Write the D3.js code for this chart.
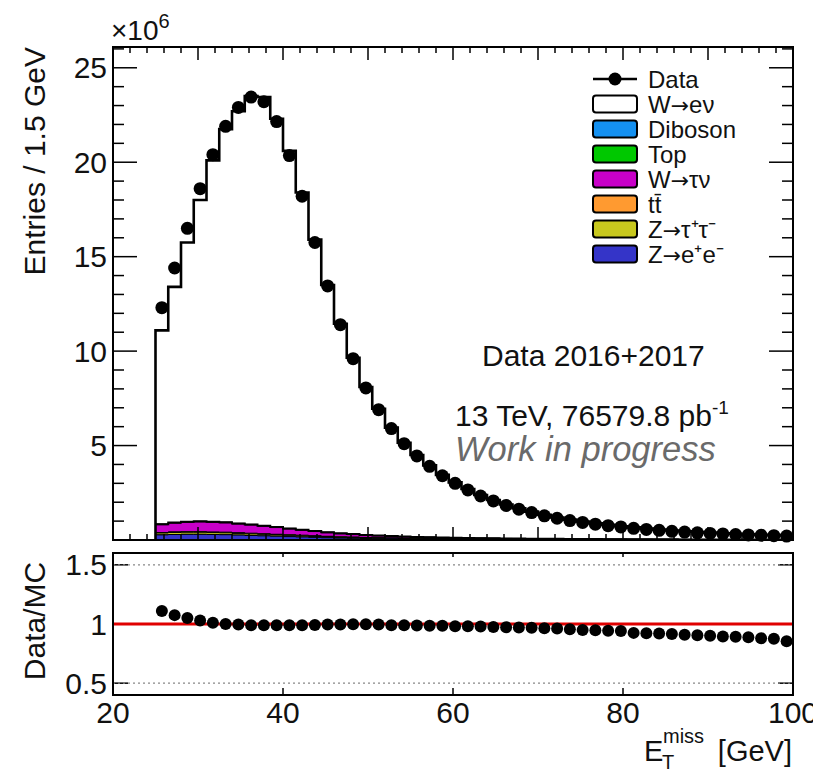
<!DOCTYPE html>
<html><head><meta charset="utf-8">
<script src="https://cdn.jsdelivr.net/npm/d3@7"></script>
<style>
html,body{margin:0;padding:0;background:#fff;}
text{font-family:"Liberation Sans",Arial,Helvetica,sans-serif;fill:#111;}
</style></head>
<body><svg id="c" width="813" height="770"></svg>
<script>
// ---- data (units of 1e6 entries per 1.5 GeV bin, bins from 25 to 100 GeV) ----
const binLow = 25, binWidth = 1.5, nBins = 50;
const dataVals = [12.3,14.4,16.5,18.6,20.4,21.9,22.9,23.45,23.2,22.15,
  20.35,18.2,15.75,13.45,11.4,9.6,8.05,6.9,5.9,5.1,
  4.45,3.9,3.4,3.0,2.65,2.33,2.07,1.83,1.63,1.45,
  1.28,1.15,1.03,0.93,0.84,0.76,0.69,0.62,0.56,0.51,
  0.46,0.42,0.38,0.35,0.32,0.29,0.27,0.25,0.23,0.21];
const mcTotal = [11.1,13.4,15.75,18.0,20.1,21.75,22.7,23.5,23.45,22.3,
  20.6,18.4,15.9,13.5,11.45,9.65,8.1,6.95,5.95,5.15,
  4.5,3.95,3.45,3.05,2.7,2.38,2.12,1.88,1.68,1.5,
  1.33,1.19,1.08,0.98,0.89,0.81,0.73,0.67,0.61,0.55,
  0.5,0.46,0.42,0.39,0.36,0.33,0.3,0.28,0.26,0.245];
const zee = [0.27,0.29,0.30,0.30,0.29,0.28,0.26,0.24,0.22,0.20,0.18,0.16,0.14,0.12,0.10,0.09,0.08,0.07,0.06,0.05,
  0.045,0.04,0.035,0.03,0.028,0.025,0.022,0.02,0.018,0.016,0.015,0.014,0.013,0.012,0.011,0.01,0.01,0.009,0.009,0.008,
  0.008,0.007,0.007,0.006,0.006,0.006,0.005,0.005,0.005,0.005];
const ztautau = [0.10,0.11,0.11,0.11,0.10,0.10,0.09,0.085,0.08,0.07,0.065,0.06,0.05,0.045,0.04,0.035,0.03,0.027,0.024,0.021,
  0.019,0.017,0.015,0.013,0.012,0.011,0.01,0.009,0.008,0.007,0.006,0.006,0.005,0.005,0.004,0.004,0.004,0.003,0.003,0.003,
  0.003,0.002,0.002,0.002,0.002,0.002,0.002,0.002,0.001,0.001];
const ttbar = [0.02,0.022,0.024,0.025,0.026,0.027,0.027,0.028,0.028,0.028,0.028,0.028,0.027,0.027,0.026,0.026,0.025,0.024,0.024,0.023,
  0.022,0.021,0.021,0.02,0.019,0.018,0.018,0.017,0.016,0.016,0.015,0.014,0.014,0.013,0.013,0.012,0.012,0.011,0.011,0.01,
  0.01,0.01,0.009,0.009,0.009,0.008,0.008,0.008,0.007,0.007];
const wtaunu = [0.42,0.47,0.5,0.52,0.52,0.5,0.47,0.44,0.4,0.36,0.31,0.27,0.23,0.19,0.16,0.135,0.11,0.095,0.08,0.068,
  0.058,0.05,0.043,0.037,0.032,0.028,0.024,0.021,0.018,0.016,0.014,0.012,0.011,0.01,0.009,0.008,0.007,0.006,0.006,0.005,
  0.005,0.004,0.004,0.004,0.003,0.003,0.003,0.003,0.002,0.002];
const topBkg = [0.02,0.02,0.021,0.022,0.022,0.022,0.022,0.022,0.021,0.021,0.02,0.02,0.019,0.019,0.018,0.018,0.017,0.016,0.016,0.015,
  0.015,0.014,0.014,0.013,0.013,0.012,0.012,0.011,0.011,0.01,0.01,0.01,0.009,0.009,0.009,0.008,0.008,0.008,0.007,0.007,
  0.007,0.006,0.006,0.006,0.006,0.005,0.005,0.005,0.005,0.005];
const diboson = [0.01,0.01,0.011,0.011,0.011,0.011,0.011,0.01,0.01,0.01,0.01,0.009,0.009,0.009,0.008,0.008,0.008,0.007,0.007,0.007,
  0.006,0.006,0.006,0.006,0.005,0.005,0.005,0.005,0.005,0.004,0.004,0.004,0.004,0.004,0.004,0.003,0.003,0.003,0.003,0.003,
  0.003,0.003,0.003,0.002,0.002,0.002,0.002,0.002,0.002,0.002];
const ratioVals = [1.11,1.075,1.05,1.03,1.01,1.0,0.995,0.99,0.99,0.99,
  0.99,0.99,0.992,0.995,0.995,0.997,0.998,0.995,0.99,0.99,
  0.988,0.985,0.985,0.98,0.98,0.978,0.975,0.972,0.97,0.968,
  0.965,0.962,0.955,0.95,0.948,0.942,0.94,0.925,0.922,0.92,
  0.915,0.91,0.905,0.9,0.895,0.892,0.888,0.88,0.875,0.855];
// legend labels as [before-arrow, arrow?, after-arrow]
const bkgNames = [["Z",true,"e\u207Ae\u207B"],["Z",true,"\u03C4\u207A\u03C4\u207B"],["tt\u0304",false,""],["W",true,"\u03C4\u03BD"],["Top",false,""],["Diboson",false,""]];
const bkgColors = ["#3434c8","#c8c81e","#ff9a30","#c800c8","#00c800","#1490f0"];
const bkgSeries = [zee, ztautau, ttbar, wtaunu, topBkg, diboson];
const yTicksMain = [5,10,15,20,25];
const yTicksRatio = [0.5,1,1.5];
const xTickLabels = [20,40,60,80,100];

// ---- layout ----
const svg = d3.select("#c");
svg.append("rect").attr("width",813).attr("height",770).attr("fill","#fff");
const L = 113, R = 793, T1 = 47, B1 = 540, T2 = 553, B2 = 695;
const x = d3.scaleLinear().domain([20,100]).range([L,R]);
const y = d3.scaleLinear().domain([0,26.1]).range([B1,T1]);
const yr = d3.scaleLinear().domain([0.4,1.6]).range([B2,T2]);

const edges = d3.range(nBins).map(i => binLow + i*binWidth);
const centers = edges.map(e => e + binWidth/2);

let cum = new Array(nBins).fill(0);
const layers = bkgSeries.map(s => {
  const lo = cum.slice();
  cum = cum.map((c,i)=>c+s[i]);
  return {lo, hi: cum.slice()};
});
const bkgSum = cum;

function stepPts(arr){ const p = edges.map((e,i)=>[e,arr[i]]); p.push([100,arr[nBins-1]]); return p; }
const area = d3.area().curve(d3.curveStepAfter).x(d=>x(d[0])).y0(d=>y(d[1])).y1(d=>y(d[2]));

const gMain = svg.append("g");
const wPts = edges.map((e,i)=>[e,bkgSum[i],mcTotal[i]]); wPts.push([100,bkgSum[nBins-1],mcTotal[nBins-1]]);
gMain.append("path").attr("d",area(wPts)).attr("fill","#fff");
for (let k = layers.length-1; k >= 0; k--) {
  const pts = edges.map((e,i)=>[e,layers[k].lo[i],layers[k].hi[i]]);
  pts.push([100,layers[k].lo[nBins-1],layers[k].hi[nBins-1]]);
  gMain.append("path").attr("d",area(pts)).attr("fill",bkgColors[k]).attr("stroke","#000").attr("stroke-width",1);
}
const line = d3.line().curve(d3.curveStepAfter).x(d=>x(d[0])).y(d=>y(d[1]));
gMain.append("path").attr("d",line(stepPts(bkgSum))).attr("fill","none").attr("stroke","#000").attr("stroke-width",2);
gMain.append("path").attr("d","M"+x(binLow)+","+y(0)+"L"+line(stepPts(mcTotal)).slice(1))
  .attr("fill","none").attr("stroke","#000").attr("stroke-width",2.6);
gMain.selectAll("circle.d").data(dataVals).join("circle")
  .attr("cx",(d,i)=>x(centers[i])).attr("cy",d=>y(d)).attr("r",6.5).attr("fill","#000");

// ---- main axes / frame ----
const ax = svg.append("g").attr("stroke","#000");
function tick(x1,y1,x2,y2,w){ ax.append("line").attr("x1",x1).attr("y1",y1).attr("x2",x2).attr("y2",y2).attr("stroke-width",w||1.5); }
for (let v=1; v<=26; v++){
  const major = v%5===0, len = major?24:11;
  tick(L,y(v),L+len,y(v)); tick(R,y(v),R-len,y(v));
}
for (let v=22; v<100; v+=2){
  const major = v%10===0, len = major?13:6;
  tick(x(v),B1,x(v),B1-len); tick(x(v),T1,x(v),T1+len);
}
svg.append("rect").attr("x",L).attr("y",T1).attr("width",R-L).attr("height",B1-T1)
  .attr("fill","none").attr("stroke","#000").attr("stroke-width",2);
svg.selectAll("text.yl").data(yTicksMain).join("text").attr("class","yl")
  .attr("x",107).attr("y",d=>y(d)+10.5).attr("text-anchor","end").attr("font-size",30).text(d=>d);
const mult = svg.append("text").attr("x",111).attr("y",40).attr("font-size",28);
mult.append("tspan").text("\u00D710");
mult.append("tspan").attr("dy",-12).attr("font-size",20).text("6");
svg.append("text").attr("transform","translate(45,47) rotate(-90)").attr("text-anchor","end")
  .attr("font-size",30).text("Entries / 1.5 GeV");

// ---- legend ----
const lg = svg.append("g");
const legX = 593, legY0 = 79, legDy = 25;
const legItems = [{n:["Data",false,""],data:true},{n:["W",true,"e\u03BD"],c:"#fff"}]
  .concat(bkgNames.map((n,i)=>({n,c:bkgColors[i]})).reverse());
legItems.forEach((it,i)=>{
  const cy = legY0 + i*legDy;
  if (it.data){
    lg.append("line").attr("x1",legX).attr("x2",legX+44).attr("y1",cy).attr("y2",cy).attr("stroke","#000").attr("stroke-width",2.5);
    lg.append("circle").attr("cx",legX+22).attr("cy",cy).attr("r",6.5).attr("fill","#000");
  } else {
    lg.append("rect").attr("x",legX).attr("y",cy-8.5).attr("width",44).attr("height",17).attr("rx",3)
      .attr("fill",it.c).attr("stroke","#000").attr("stroke-width",2);
  }
  const t = lg.append("text").attr("x",648).attr("y",cy+8.5).attr("font-size",24);
  t.append("tspan").text(it.n[0]);
  if (it.n[1]) t.append("tspan").attr("font-family","'DejaVu Sans',sans-serif").attr("font-size",22).text("\u2192");
  if (it.n[2]) t.append("tspan").text(it.n[2]);
});

// ---- labels ----
svg.append("text").attr("x",482).attr("y",366).attr("font-size",30).text("Data 2016+2017");
const lum = svg.append("text").attr("x",455).attr("y",426).attr("font-size",30);
lum.append("tspan").text("13 TeV, 76579.8 pb");
lum.append("tspan").attr("dy",-12).attr("font-size",19).text("-1");
svg.append("text").attr("x",455).attr("y",461).attr("font-size",34.5)
  .attr("font-family","Lato, 'Open Sans', sans-serif").attr("font-style","italic").style("fill","#6a6a6a")
  .text("Work in progress");

// ---- ratio panel ----
const gR = svg.append("g");
yTicksRatio.filter(v=>v!==1).forEach(v=>{
  gR.append("line").attr("x1",L).attr("x2",R).attr("y1",yr(v)).attr("y2",yr(v))
    .attr("stroke","#888").attr("stroke-width",1.2).attr("stroke-dasharray","2,3");
});
gR.append("line").attr("x1",L).attr("x2",R).attr("y1",yr(1)).attr("y2",yr(1)).attr("stroke","#e00000").attr("stroke-width",3);
gR.selectAll("circle").data(ratioVals).join("circle")
  .attr("cx",(d,i)=>x(centers[i])).attr("cy",d=>yr(d)).attr("r",6).attr("fill","#000");
yTicksRatio.forEach(v=>{ tick(L,yr(v),L+15,yr(v)); tick(R,yr(v),R-15,yr(v)); });
xTickLabels.slice(1,-1).forEach(v=>{ tick(x(v),T2,x(v),T2+4); tick(x(v),B2,x(v),B2-7); });
svg.append("rect").attr("x",L).attr("y",T2).attr("width",R-L).attr("height",B2-T2)
  .attr("fill","none").attr("stroke","#000").attr("stroke-width",2);
svg.selectAll("text.ry").data(yTicksRatio).join("text").attr("class","ry")
  .attr("x",107).attr("y",d=>yr(d)+10.5).attr("text-anchor","end").attr("font-size",30).text(d=>d);
svg.selectAll("text.xl").data(xTickLabels).join("text").attr("class","xl")
  .attr("x",d=>x(d)).attr("y",723).attr("text-anchor","middle").attr("font-size",30).text(d=>d);
svg.append("text").attr("transform","translate(45,621) rotate(-90)").attr("text-anchor","middle")
  .attr("font-size",30).text("Data/MC");
svg.append("text").attr("x",644).attr("y",761).attr("font-size",29).text("E");
svg.append("text").attr("x",663).attr("y",743).attr("font-size",20).text("miss");
svg.append("text").attr("x",662).attr("y",769).attr("font-size",20).text("T");
svg.append("text").attr("x",792).attr("y",761).attr("text-anchor","end").attr("font-size",29).text("[GeV]");
</script></body></html>
